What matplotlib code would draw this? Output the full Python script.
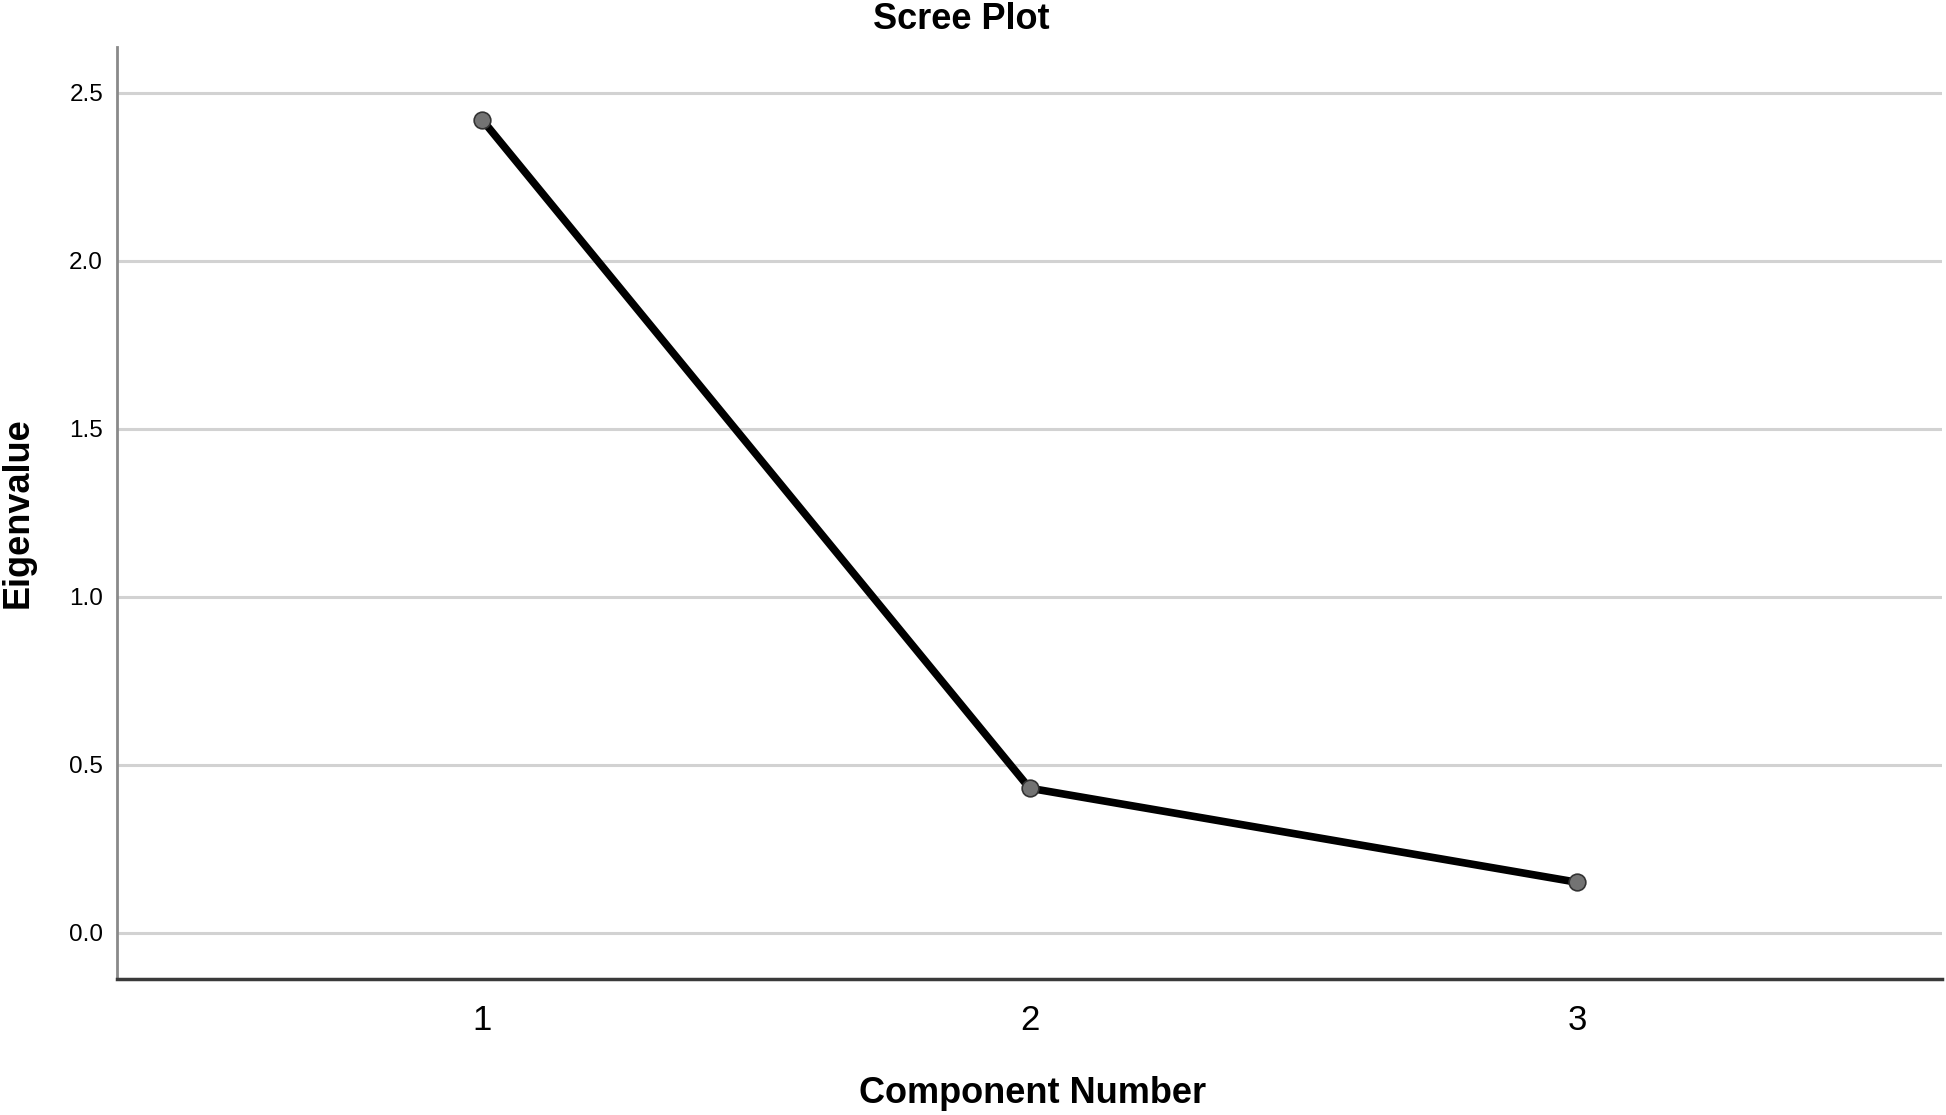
import matplotlib
matplotlib.use("Agg")
import matplotlib.pyplot as plt

# scree plot data
components = [1, 2, 3]
eigenvalues = [2.42, 0.43, 0.15]
yticks = [0.0, 0.5, 1.0, 1.5, 2.0, 2.5]
yticklabels = ["0.0", "0.5", "1.0", "1.5", "2.0", "2.5"]

plt.rcParams['font.family'] = ['Liberation Sans', 'DejaVu Sans']

fig = plt.figure(figsize=(19.46, 11.15), dpi=100)
ax = fig.add_axes([117 / 1946, 1 - 979 / 1115, (1942 - 117) / 1946, (979 - 47) / 1115])

ax.set_xlim(1 / 3, 3 + 2 / 3)
ax.set_ylim(-0.138, 2.636)

ax.set_yticks(yticks)
ax.set_yticklabels(yticklabels)
ax.set_xticks(components)
ax.set_xticklabels([str(c) for c in components])

ax.yaxis.grid(True, color="#d2d2d2", linewidth=2.2)
ax.set_axisbelow(True)

ax.plot(components, eigenvalues, color="black", linewidth=5.5, zorder=3,
        marker="o", markersize=12, markerfacecolor="#737373",
        markeredgecolor="#333333", markeredgewidth=1.2)

for s in ["top", "right"]:
    ax.spines[s].set_visible(False)
ax.spines["left"].set_color("#8a8a8a")
ax.spines["left"].set_linewidth(2)
ax.spines["bottom"].set_color("#3a3a3a")
ax.spines["bottom"].set_linewidth(2.5)

ax.tick_params(axis="y", length=0, pad=10, labelsize=17.5)
ax.tick_params(axis="x", length=0, pad=18, labelsize=25)

ax.set_xlabel("Component Number", fontsize=26, fontweight="bold")
ax.xaxis.set_label_coords((1033 - 117) / 1825, -(1103 - 979) / 932)
ax.xaxis.label.set_verticalalignment("baseline")

ax.set_ylabel("Eigenvalue", fontsize=26, fontweight="bold")
ax.yaxis.set_label_coords(-116 / 1825, 0.5)
ax.yaxis.label.set_horizontalalignment("center")
ax.yaxis.label.set_verticalalignment("top")

fig.text(961 / 1946, 1 - 29 / 1115, "Scree Plot", fontsize=26, fontweight="bold",
         ha="center", va="baseline")

fig.savefig("out.png", dpi=100, facecolor="white")
